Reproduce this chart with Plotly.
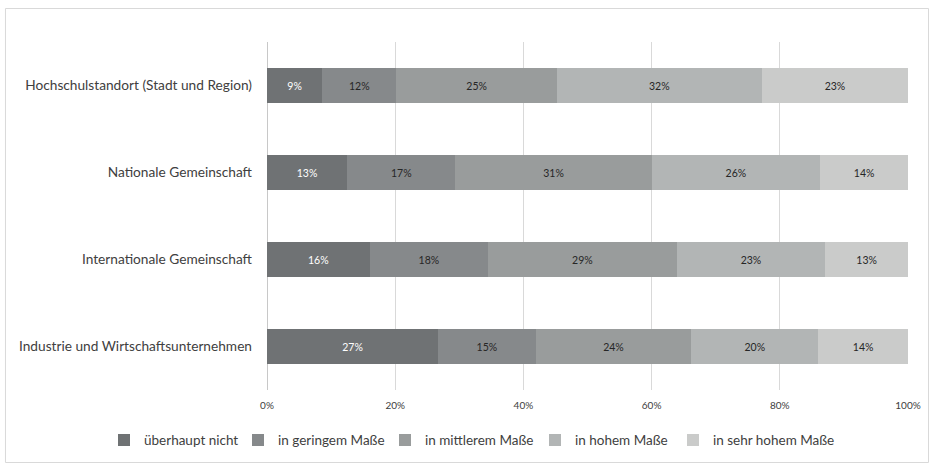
import plotly.graph_objects as go

categories = [
    "Hochschulstandort (Stadt und Region)",
    "Nationale Gemeinschaft",
    "Internationale Gemeinschaft",
    "Industrie und Wirtschaftsunternehmen",
]
series_names = [
    "überhaupt nicht",
    "in geringem Maße",
    "in mittlerem Maße",
    "in hohem Maße",
    "in sehr hohem Maße",
]
# shares (fraction) per series, in category order
ueberhaupt_nicht = [0.086, 0.125, 0.160, 0.267]
geringem = [0.116, 0.169, 0.185, 0.152]
mittlerem = [0.250, 0.306, 0.294, 0.243]
hohem = [0.320, 0.263, 0.232, 0.198]
sehr_hohem = [0.228, 0.137, 0.129, 0.140]
# printed labels
labels_ueberhaupt = ["9%", "13%", "16%", "27%"]
labels_geringem = ["12%", "17%", "18%", "15%"]
labels_mittlerem = ["25%", "31%", "29%", "24%"]
labels_hohem = ["32%", "26%", "23%", "20%"]
labels_sehr_hohem = ["23%", "14%", "13%", "14%"]
tick_vals = [0, 0.2, 0.4, 0.6, 0.8, 1.0]
tick_text = ["0%", "20%", "40%", "60%", "80%", "100%"]

values = [ueberhaupt_nicht, geringem, mittlerem, hohem, sehr_hohem]
labels = [labels_ueberhaupt, labels_geringem, labels_mittlerem, labels_hohem, labels_sehr_hohem]
colors = ["#6f7274", "#86898b", "#999c9c", "#b2b5b5", "#cacbca"]
text_colors = ["#ffffff", "#262626", "#262626", "#262626", "#262626"]

FONT = "Lato, 'Open Sans', sans-serif"

# plot area geometry (px) used to place one legend per series
PL, PW = 267, 641
legend_px = [104, 238, 385, 535, 673]
legend_ids = ["legend", "legend2", "legend3", "legend4", "legend5"]

fig = go.Figure()
for name, vals, lab, col, tc, lid in zip(series_names, values, labels, colors, text_colors, legend_ids):
    fig.add_trace(go.Bar(
        y=categories, x=vals, name=name, orientation="h",
        marker=dict(color=col, line=dict(width=0)),
        text=lab, textposition="inside", insidetextanchor="middle",
        textfont=dict(color=tc, size=10.5, family=FONT),
        hoverinfo="skip", legend=lid, showlegend=True,
    ))

legend_common = dict(
    orientation="h", xanchor="left", y=-0.144, yanchor="middle",
    font=dict(size=13.5, color="#404040", family=FONT),
    bgcolor="rgba(0,0,0,0)", borderwidth=0, visible=True,
)
layout_legends = {}
for lid, px in zip(legend_ids, legend_px):
    layout_legends[lid] = dict(legend_common, x=(px - PL) / PW)

fig.update_layout(
    showlegend=True,
    barmode="stack",
    bargap=0.6,
    width=934, height=472,
    margin=dict(l=PL, r=26, t=42, b=82, autoexpand=False),
    paper_bgcolor="white", plot_bgcolor="white",
    font=dict(family=FONT, color="#404040"),
    xaxis=dict(
        range=[0, 1], tickvals=tick_vals, ticktext=tick_text,
        showgrid=True, gridcolor="#d9d9d9", gridwidth=1,
        zeroline=True, zerolinecolor="#c8c8c8", zerolinewidth=1,
        showline=False,
        tickfont=dict(size=10, color="#404040", family=FONT),
        ticks="", ticklabelstandoff=8,
    ),
    yaxis=dict(
        autorange="reversed", showgrid=False, zeroline=False,
        showline=False,
        tickfont=dict(size=13.7, color="#404040", family=FONT),
        ticks="", ticklabelstandoff=14,
    ),
    shapes=[dict(
        type="rect", xref="paper", yref="paper",
        x0=-0.408, x1=1.032, y0=-0.2083, y1=1.0963,
        line=dict(color="#d9d9d9", width=1), fillcolor="rgba(0,0,0,0)", layer="below",
    )],
    **layout_legends,
)

fig.write_html("out.html")
